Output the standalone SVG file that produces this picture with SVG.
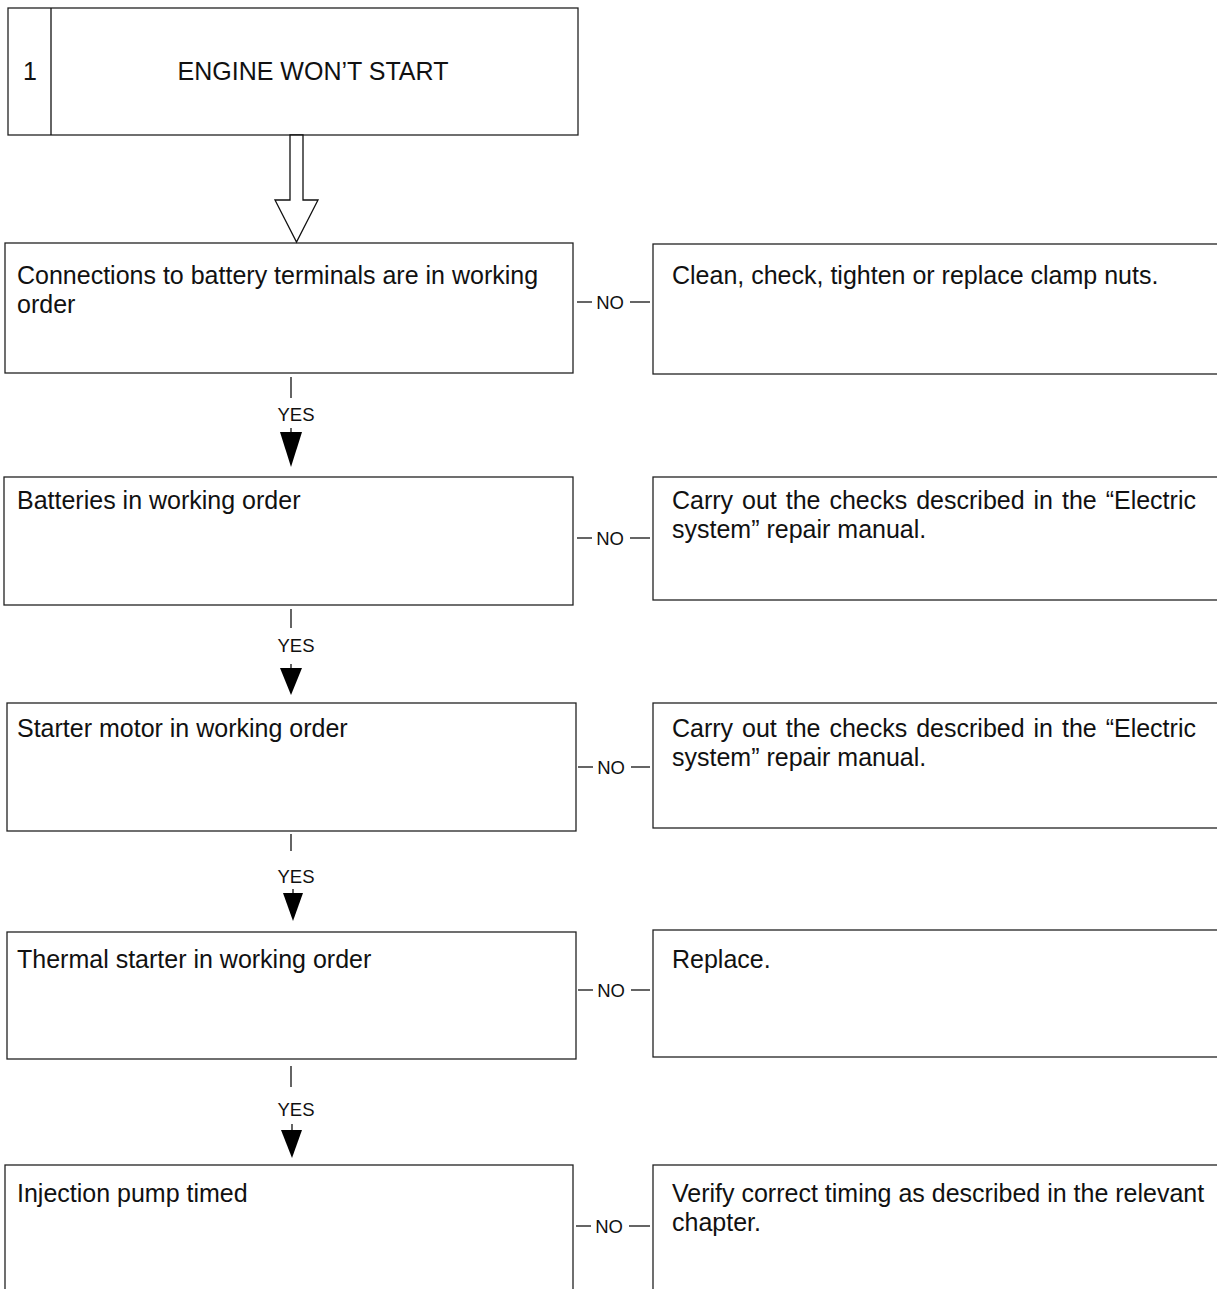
<svg xmlns="http://www.w3.org/2000/svg" width="1217" height="1289" viewBox="0 0 1217 1289">
<defs>
<style>
.box{fill:#fff;stroke:#222;stroke-width:1.3}
.t{font-family:"Liberation Sans",Arial,sans-serif;font-size:25px;fill:#111}
.j{word-spacing:2px}
.s{font-family:"Liberation Sans",Arial,sans-serif;font-size:18.5px;fill:#111}
.ln{stroke:#111;stroke-width:1.3;fill:none}
.ah{fill:#000}
</style>
</defs>
<rect width="1217" height="1289" fill="#fff"/>
<g id="start">
<rect class="box" x="8" y="8" width="570" height="127"/>
<line class="ln" x1="51" y1="8" x2="51" y2="135"/>
<text class="t" x="30" y="80" text-anchor="middle">1</text>
<text class="t" x="313" y="80" text-anchor="middle">ENGINE WON’T START</text>
</g>
<g id="q1">
<rect class="box" x="5" y="243" width="568" height="130"/>
<text class="t" x="17" y="284">Connections to battery terminals are in working</text>
<text class="t" x="17" y="313">order</text>
</g>
<g id="a1">
<rect class="box" x="653" y="244" width="570" height="130"/>
<text class="t" x="672" y="284">Clean, check, tighten or replace clamp nuts.</text>
</g>
<g id="q2">
<rect class="box" x="4" y="477" width="569" height="128"/>
<text class="t" x="17" y="509">Batteries in working order</text>
</g>
<g id="a2">
<rect class="box" x="653" y="477" width="570" height="123"/>
<text class="t j" x="672" y="509">Carry out the checks described in the “Electric</text>
<text class="t" x="672" y="538">system” repair manual.</text>
</g>
<g id="q3">
<rect class="box" x="7" y="703" width="569" height="128"/>
<text class="t" x="17" y="737">Starter motor in working order</text>
</g>
<g id="a3">
<rect class="box" x="653" y="703" width="570" height="125"/>
<text class="t j" x="672" y="737">Carry out the checks described in the “Electric</text>
<text class="t" x="672" y="766">system” repair manual.</text>
</g>
<g id="q4">
<rect class="box" x="7" y="932" width="569" height="127"/>
<text class="t" x="17" y="968">Thermal starter in working order</text>
</g>
<g id="a4">
<rect class="box" x="653" y="930" width="570" height="127"/>
<text class="t" x="672" y="968">Replace.</text>
</g>
<g id="q5">
<rect class="box" x="5" y="1165" width="568" height="140"/>
<text class="t" x="17" y="1202">Injection pump timed</text>
</g>
<g id="a5">
<rect class="box" x="653" y="1165" width="570" height="140"/>
<text class="t" x="672" y="1202">Verify correct timing as described in the relevant</text>
<text class="t" x="672" y="1231">chapter.</text>
</g>
<g id="connectors">
<polygon points="290,135 303,135 303,200 318,200 296.5,242 275,200 290,200" fill="#fff" stroke="#111" stroke-width="1.3"/>
<line class="ln" x1="291" y1="377" x2="291" y2="398"/>
<text class="s" x="296" y="421" text-anchor="middle">YES</text>
<line class="ln" x1="291" y1="428" x2="291" y2="434"/>
<polygon class="ah" points="280,432 302,432 291,467"/>
<line class="ln" x1="291" y1="609" x2="291" y2="628"/>
<text class="s" x="296" y="652" text-anchor="middle">YES</text>
<line class="ln" x1="291" y1="664" x2="291" y2="670"/>
<polygon class="ah" points="280,668 302,668 291,695"/>
<line class="ln" x1="291" y1="834" x2="291" y2="851"/>
<text class="s" x="296" y="883" text-anchor="middle">YES</text>
<line class="ln" x1="293" y1="889" x2="293" y2="895"/>
<polygon class="ah" points="283,893 303,893 293,921"/>
<line class="ln" x1="291" y1="1066" x2="291" y2="1087"/>
<text class="s" x="296" y="1116" text-anchor="middle">YES</text>
<line class="ln" x1="292" y1="1124" x2="292" y2="1132"/>
<polygon class="ah" points="281,1130 302,1130 292,1158"/>
<g id="no1"><line class="ln" x1="577" y1="302" x2="592" y2="302"/><text class="s" x="610" y="309" text-anchor="middle">NO</text><line class="ln" x1="630" y1="302" x2="650" y2="302"/></g>
<g id="no2"><line class="ln" x1="577" y1="538" x2="592" y2="538"/><text class="s" x="610" y="545" text-anchor="middle">NO</text><line class="ln" x1="630" y1="538" x2="650" y2="538"/></g>
<g id="no3"><line class="ln" x1="578" y1="767" x2="593" y2="767"/><text class="s" x="611" y="774" text-anchor="middle">NO</text><line class="ln" x1="631" y1="767" x2="650" y2="767"/></g>
<g id="no4"><line class="ln" x1="578" y1="990" x2="593" y2="990"/><text class="s" x="611" y="997" text-anchor="middle">NO</text><line class="ln" x1="631" y1="990" x2="650" y2="990"/></g>
<g id="no5"><line class="ln" x1="576" y1="1226" x2="591" y2="1226"/><text class="s" x="609" y="1233" text-anchor="middle">NO</text><line class="ln" x1="629" y1="1226" x2="650" y2="1226"/></g>
</g>
</svg>
